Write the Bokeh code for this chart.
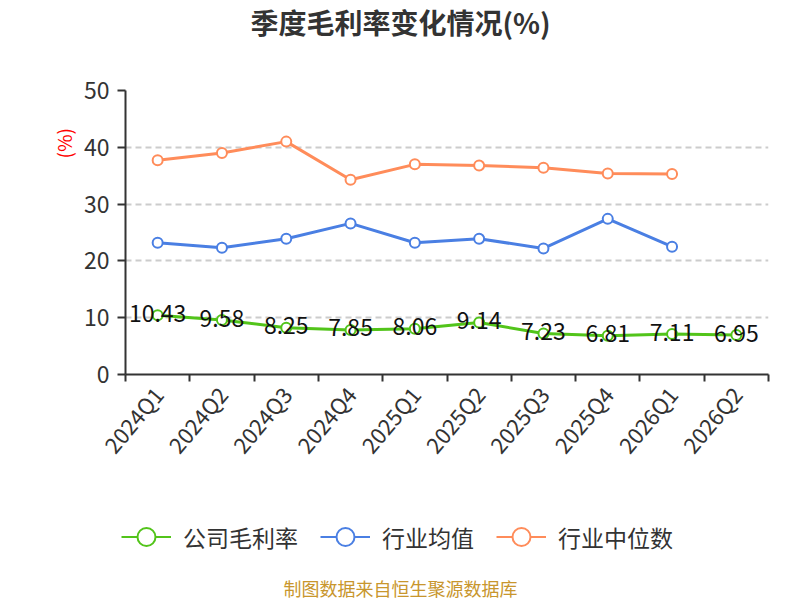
import math
from bokeh.plotting import figure
from bokeh.layouts import column, row
from bokeh.models import (ColumnDataSource, FixedTicker, Legend, LegendItem, Label, Range1d)
from bokeh.core.properties import value
from bokeh.embed import file_html
from bokeh.resources import INLINE

categories = ["2024Q1", "2024Q2", "2024Q3", "2024Q4", "2025Q1", "2025Q2", "2025Q3", "2025Q4", "2026Q1", "2026Q2"]
company = [10.43, 9.58, 8.25, 7.85, 8.06, 9.14, 7.23, 6.81, 7.11, 6.95]
industry_avg = [23.2, 22.3, 23.9, 26.6, 23.2, 23.9, 22.2, 27.4, 22.5, float("nan")]
industry_median = [37.7, 39.0, 41.0, 34.3, 37.0, 36.8, 36.4, 35.4, 35.3, float("nan")]
y_ticks = [0, 10, 20, 30, 40, 50]
series_names = ["公司毛利率", "行业均值", "行业中位数"]

FONT = "Noto Sans CJK SC"
GREEN = "#52c41a"
BLUE = "#4a7fe3"
ORANGE = "#ff8c5a"
COLORS = [GREEN, BLUE, ORANGE]

n = len(categories)
xs = [i + 0.5 for i in range(n)]

src = ColumnDataSource(dict(
    x=xs,
    company=company,
    avg=industry_avg,
    med=industry_median,
    lbl=[f"{v:.2f}" for v in company],
))


def blank(w, h):
    f = figure(width=w, height=h, output_backend="svg", toolbar_location=None,
               x_range=Range1d(0, w), y_range=Range1d(0, h),
               x_axis_type=None, y_axis_type=None,
               min_border_left=0, min_border_right=0, min_border_top=0, min_border_bottom=0)
    f.outline_line_color = None
    return f


# header with title
header = blank(784, 44)
header.add_layout(Label(x=400, y=23, text="季度毛利率变化情况(%)",
                        text_font=FONT, text_font_size="28px", text_font_style="bold",
                        text_color="#333333", text_align="center", text_baseline="middle"))

# left strip with unit label
strip = blank(78, 436)
strip.add_layout(Label(x=63, y=355, text="(%)", angle=math.pi / 2,
                       text_color="red", text_font=FONT, text_font_size="19px",
                       text_align="center", text_baseline="middle"))

# main chart
p = figure(width=706, height=436, output_backend="svg", toolbar_location=None,
           x_range=Range1d(0, n), y_range=Range1d(0, 50),
           min_border_left=47, min_border_right=16, min_border_top=46, min_border_bottom=106)
p.outline_line_color = None
p.background_fill_color = "white"

xa = p.xaxis[0]
xa.ticker = FixedTicker(ticks=xs, minor_ticks=list(range(n + 1)))
xa.major_label_overrides = {x: c for x, c in zip(xs, categories)}
xa.major_tick_out = 0
xa.major_tick_in = 0
xa.minor_tick_out = 7
xa.minor_tick_in = 0
xa.minor_tick_line_color = "#333333"
xa.minor_tick_line_width = 2
xa.axis_line_color = "#333333"
xa.axis_line_width = 2
xa.major_label_orientation = math.radians(50)
xa.major_label_text_font = FONT
xa.major_label_text_font_size = "22px"
xa.major_label_text_color = "#333333"
xa.major_label_standoff = 8

ya = p.yaxis[0]
ya.ticker = FixedTicker(ticks=y_ticks)
ya.major_tick_out = 8
ya.major_tick_in = 0
ya.minor_tick_out = 0
ya.minor_tick_in = 0
ya.major_tick_line_color = "#333333"
ya.major_tick_line_width = 2
ya.axis_line_color = "#333333"
ya.axis_line_width = 2
ya.major_label_text_font = FONT
ya.major_label_text_font_size = "23px"
ya.major_label_text_color = "#333333"
ya.major_label_standoff = 8

p.xgrid.visible = False
p.ygrid.ticker = FixedTicker(ticks=y_ticks[1:])
p.ygrid.grid_line_color = "#cccccc"
p.ygrid.grid_line_dash = "6 4"
p.ygrid.grid_line_width = 2

for col, color in zip(["company", "avg", "med"], COLORS):
    p.line("x", col, source=src, line_color=color, line_width=3)
    p.scatter("x", col, source=src, size=10, fill_color="white", line_color=color, line_width=2)

p.text("x", "company", text="lbl", source=src, text_align="center", text_baseline="middle",
       text_font=value(FONT), text_font_size="23px", text_color="#111111", y_offset=-2)

# legend + footer (legend renderers sit outside the visible range of this strip)
lfig = blank(784, 120)
items = []
for name, color in zip(series_names, COLORS):
    lr = lfig.line([-100, -90], [-100, -100], line_color=color, line_width=2)
    cr = lfig.scatter([-100], [-100], size=18, fill_color="white", line_color=color, line_width=2)
    items.append(LegendItem(label=name, renderers=[lr, cr]))
legend = Legend(items=items, orientation="horizontal", location=(121, 41))
legend.label_text_font = FONT
legend.label_text_font_size = "23px"
legend.label_text_color = "#333333"
legend.glyph_width = 50
legend.glyph_height = 45
legend.spacing = 22
legend.label_standoff = 12
legend.border_line_color = None
legend.background_fill_alpha = 0
legend.margin = 0
legend.padding = 0
lfig.add_layout(legend, "center")
lfig.add_layout(Label(x=400, y=13, text="制图数据来自恒生聚源数据库",
                      text_font=FONT, text_font_size="18px", text_color="#c8962d",
                      text_align="center", text_baseline="middle"))

layout = column(header, row(strip, p, spacing=0), lfig, spacing=0)
open("out.html", "w").write(file_html(layout, INLINE))
